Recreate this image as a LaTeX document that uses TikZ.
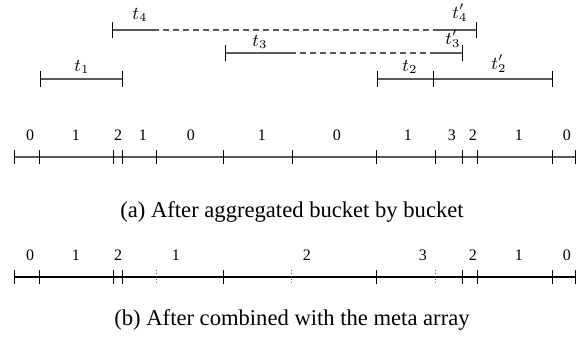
\documentclass[tikz,border=0pt]{standalone}
\usepackage{fontspec}
\setmainfont{Liberation Serif}
\usetikzlibrary{positioning}

\begin{document}
\begin{tikzpicture}[x=0.5pt,y=-0.5pt]
    \tikzset{
        span/.style={draw=black!65, line width=0.7pt},
        gap/.style={span, dashed, dash pattern=on 3pt off 2pt},
        endbar/.style={draw=black, line width=0.5pt},
        tlabel/.style={inner sep=0pt, font=\small},
        digit/.style={inner sep=0pt, font=\footnotesize},
        caption/.style={inner sep=0pt, font=\fontsize{11.3}{13}\selectfont}
    }
    \useasboundingbox (0,0) rectangle (586,345);

    % Interval end points
    \coordinate (t1a) at (41,79);
    \coordinate (t1b) at (123,79);
    \coordinate (t2a) at (378,79);
    \coordinate (t2b) at (434,79);
    \coordinate (t2c) at (553,79);
    \coordinate (t3a) at (226,53);
    \coordinate (t3s) at (290,53);
    \coordinate (t3d) at (430,53);
    \coordinate (t3b) at (463,53);
    \coordinate (t4a) at (113,30);
    \coordinate (t4s) at (153,30);
    \coordinate (t4d) at (433,30);
    \coordinate (t4b) at (477,30);

    % Intervals
    \draw[span] (t1a) -- (t1b);
    \draw[span] (t2a) -- (t2b) -- (t2c);
    \draw[span] (t3a) -- (t3s);
    \draw[gap] (t3s) -- (t3d);
    \draw[span] (t3d) -- (t3b);
    \draw[span] (t4a) -- (t4s);
    \draw[gap] (t4s) -- (t4d);
    \draw[span] (t4d) -- (t4b);
    \foreach \p in {t1a,t1b,t2a,t2b,t2c,t3a,t3b,t4a,t4b}
        \draw[endbar] (\p) ++(0,-8) -- ++(0,16);

    % Interval labels
    \node[tlabel] (l1) at (82,67) {$t_1$};
    \node[tlabel] (l2) at (410,67) {$t_2$};
    \node[tlabel] (l2p) at (499,64) {$t'_2$};
    \node[tlabel] (l3) at (260,42) {$t_3$};
    \node[tlabel] (l3p) at (453,39) {$t'_3$};
    \node[tlabel] (l4) at (140,15) {$t_4$};
    \node[tlabel] (l4p) at (460,13) {$t'_4$};

    % Axis (a)
    \coordinate (a0) at (15,157);
    \coordinate (a1) at (576,157);
    \draw[span] (a0) -- (a1);
    \foreach \x in {15,40,114,123,157,224,293,377,436,463,478,553,576}
        \draw[endbar] (\x,150) -- (\x,164);
    \foreach \x/\v in {30/0,76/1,118/2,143/1,191/0,262/1,337/0,408/1,452/3,473/2,519/1,567/0}
        \node[digit] at (\x,135) {\v};
    \node[caption] (capa) at (292,212) {(a) After aggregated bucket by bucket};

    % Axis (b)
    \coordinate (b0) at (15,277);
    \coordinate (b1) at (576,277);
    \draw[endbar, line width=0.7pt] (b0) -- (b1);
    \foreach \x in {15,40,114,123,224,377,463,478,553,576}
        \draw[endbar] (\x,270) -- (\x,284);
    \foreach \x in {157,292,436}
        \draw[endbar, black!60, densely dotted] (\x,270) -- (\x,284);
    \foreach \x/\v in {30/0,76/1,118/2,176/1,307/2,423/3,473/2,519/1,567/0}
        \node[digit] at (\x,255) {\v};
    \node[caption] (capb) at (292,320) {(b) After combined with the meta array};
\end{tikzpicture}
\end{document}
